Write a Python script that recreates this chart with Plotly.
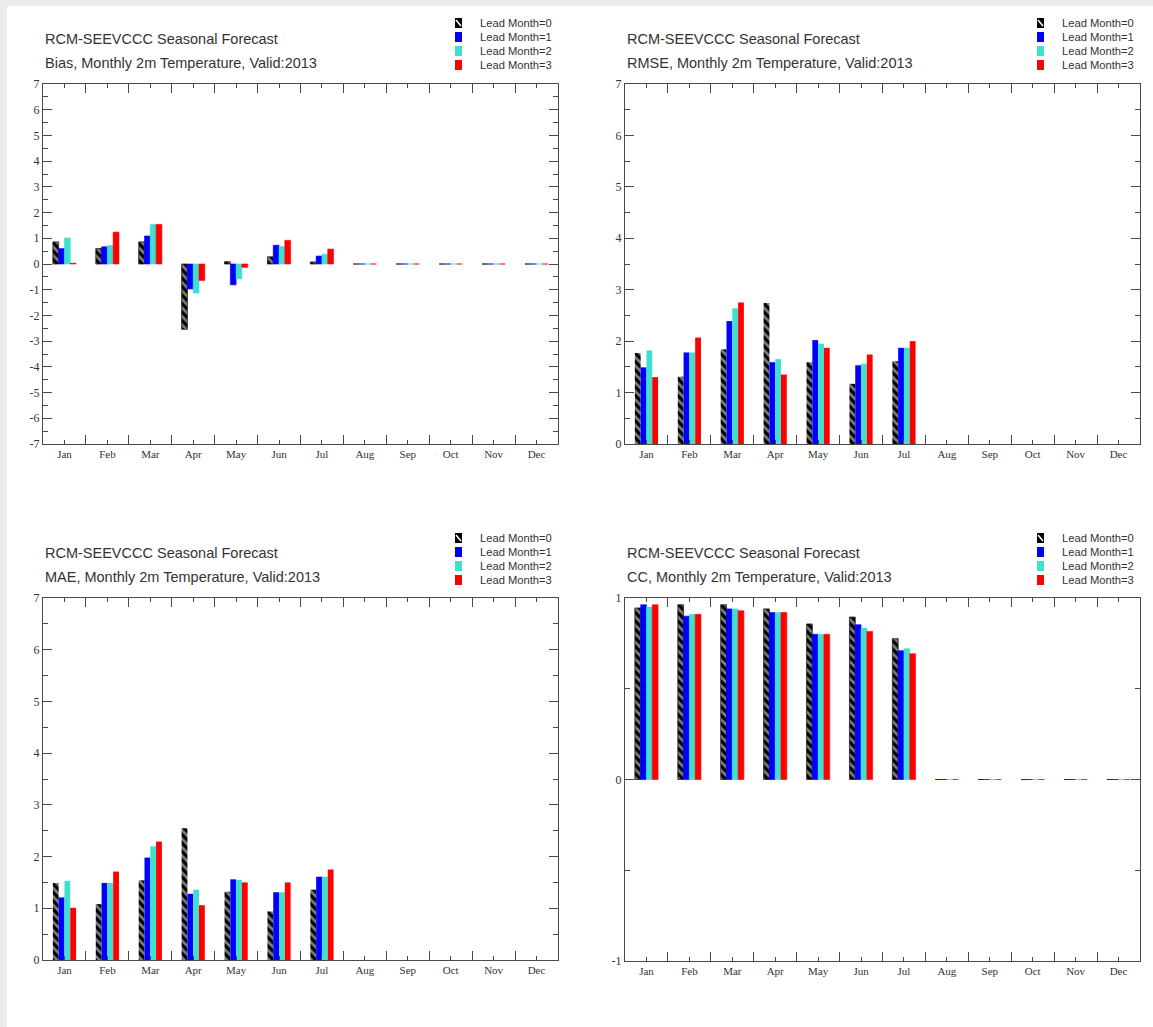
import plotly.graph_objects as go

W, H = 1153, 1027

months = ["Jan", "Feb", "Mar", "Apr", "May", "Jun", "Jul", "Aug", "Sep", "Oct", "Nov", "Dec"]
lead_labels = ["Lead Month=0", "Lead Month=1", "Lead Month=2", "Lead Month=3"]
lead_colors = ["#000000", "#0000ff", "#40e0d0", "#ff0000"]

# Bias
bias_l0 = [0.86, 0.60, 0.86, -2.54, 0.09, 0.28, 0.08, 0, 0, 0, 0, 0]
bias_l1 = [0.60, 0.67, 1.09, -0.97, -0.81, 0.73, 0.31, 0, 0, 0, 0, 0]
bias_l2 = [1.01, 0.72, 1.54, -1.13, -0.58, 0.68, 0.38, 0, 0, 0, 0, 0]
bias_l3 = [0.03, 1.24, 1.54, -0.64, -0.13, 0.92, 0.58, 0, 0, 0, 0, 0]
# RMSE
rmse_l0 = [1.77, 1.31, 1.84, 2.74, 1.59, 1.17, 1.61, 0, 0, 0, 0, 0]
rmse_l1 = [1.49, 1.78, 2.39, 1.59, 2.02, 1.53, 1.87, 0, 0, 0, 0, 0]
rmse_l2 = [1.82, 1.78, 2.64, 1.65, 1.95, 1.56, 1.87, 0, 0, 0, 0, 0]
rmse_l3 = [1.30, 2.07, 2.75, 1.35, 1.87, 1.74, 2.00, 0, 0, 0, 0, 0]
# MAE
mae_l0 = [1.49, 1.08, 1.54, 2.55, 1.32, 0.94, 1.36, 0, 0, 0, 0, 0]
mae_l1 = [1.21, 1.49, 1.98, 1.28, 1.56, 1.31, 1.61, 0, 0, 0, 0, 0]
mae_l2 = [1.53, 1.49, 2.20, 1.36, 1.55, 1.31, 1.61, 0, 0, 0, 0, 0]
mae_l3 = [1.01, 1.71, 2.29, 1.06, 1.50, 1.50, 1.75, 0, 0, 0, 0, 0]
# CC
cc_l0 = [0.945, 0.963, 0.963, 0.94, 0.857, 0.895, 0.776, 0, 0, 0, 0, 0]
cc_l1 = [0.963, 0.90, 0.94, 0.92, 0.80, 0.853, 0.71, 0, 0, 0, 0, 0]
cc_l2 = [0.95, 0.91, 0.94, 0.92, 0.80, 0.835, 0.72, 0, 0, 0, 0, 0]
cc_l3 = [0.963, 0.91, 0.93, 0.92, 0.80, 0.816, 0.693, 0, 0, 0, 0, 0]

title_line1 = "RCM-SEEVCCC Seasonal Forecast"
panel_titles = [
    "Bias, Monthly 2m Temperature, Valid:2013",
    "RMSE, Monthly 2m Temperature, Valid:2013",
    "MAE, Monthly 2m Temperature, Valid:2013",
    "CC, Monthly 2m Temperature, Valid:2013",
]

panels = [
    dict(data=[bias_l0, bias_l1, bias_l2, bias_l3], yr=[-7, 7],
         px=(43, 558), py=(84, 444), title=panel_titles[0], top=True, left=True),
    dict(data=[rmse_l0, rmse_l1, rmse_l2, rmse_l3], yr=[0, 7],
         px=(625, 1140), py=(84, 444), title=panel_titles[1], top=True, left=False),
    dict(data=[mae_l0, mae_l1, mae_l2, mae_l3], yr=[0, 7],
         px=(43, 558), py=(598, 960), title=panel_titles[2], top=False, left=True),
    dict(data=[cc_l0, cc_l1, cc_l2, cc_l3], yr=[-1, 1],
         px=(625, 1140), py=(598, 961), title=panel_titles[3], top=False, left=False),
]

xpos = list(range(1, len(months) + 1))
axcol = "#4a4a4a"
txtcol = "#333333"

fig = go.Figure()
layout = dict(
    width=W, height=H, autosize=False,
    margin=dict(l=0, r=0, t=0, b=0, pad=0, autoexpand=False),
    paper_bgcolor="#ebebeb", plot_bgcolor="white",
    barmode="group", bargap=0.46, bargroupgap=0.0,
    showlegend=False,
)
shapes = [dict(type="rect", xref="paper", yref="paper", x0=7 / W, x1=1.0, y0=0, y1=1 - 6 / H,
               fillcolor="white", line=dict(width=0), layer="below")]
annotations = []

for i, p in enumerate(panels):
    n = "" if i == 0 else str(i + 1)
    xa, ya = "x" + n, "y" + n
    zero_visible = p["yr"][0] < 0
    for k in range(4):
        if k == 0:
            marker = dict(color="black", line=dict(color="#222222", width=0.8 if zero_visible else 0),
                          pattern=dict(shape="\\", fgcolor="white", fillmode="overlay",
                                       size=6, solidity=0.45))
        else:
            marker = dict(color=lead_colors[k],
                          line=dict(color=lead_colors[k], width=0.6 if zero_visible else 0))
        fig.add_trace(go.Bar(x=xpos, y=p["data"][k], name=lead_labels[k], marker=marker,
                             xaxis=xa, yaxis=ya))
    x0, x1 = p["px"]
    y0, y1 = p["py"]
    yticks = list(range(p["yr"][0], p["yr"][1] + 1))
    layout["xaxis" + n] = dict(
        domain=[x0 / W, x1 / W], anchor=ya, range=[0.5, len(months) + 0.5],
        tickmode="array", tickvals=xpos, ticktext=months,
        ticks="inside", ticklen=4, tickcolor=axcol, tickwidth=1,
        minor=dict(ticks="inside", ticklen=9, tick0=0.5, dtick=1, tickcolor=axcol, tickwidth=1),
        showline=True, linecolor=axcol, linewidth=1, mirror="ticks",
        showgrid=False, zeroline=False, fixedrange=True, automargin=False,
        tickfont=dict(family="Liberation Serif", size=11, color=txtcol),
    )
    layout["yaxis" + n] = dict(
        domain=[1 - y1 / H, 1 - y0 / H], anchor=xa, range=p["yr"],
        tickmode="array", tickvals=yticks, ticktext=[str(v) for v in yticks],
        ticks="inside", ticklen=9, tickcolor=axcol, tickwidth=1,
        minor=dict(ticks="inside", ticklen=5, tick0=0, dtick=0.5, tickcolor=axcol, tickwidth=1),
        showline=True, linecolor=axcol, linewidth=1, mirror="ticks",
        showgrid=False, zeroline=False, fixedrange=True, automargin=False,
        tickfont=dict(family="Liberation Serif", size=12, color=txtcol),
    )
    # titles
    tx = x0
    ty1 = 39 if p["top"] else 553
    annotations.append(dict(xref="paper", yref="paper", x=tx / W, y=1 - ty1 / H, text=title_line1,
                            showarrow=False, xanchor="left", yanchor="middle",
                            font=dict(family="Liberation Sans", size=14.5, color=txtcol)))
    annotations.append(dict(xref="paper", yref="paper", x=tx / W, y=1 - (ty1 + 24) / H, text=p["title"],
                            showarrow=False, xanchor="left", yanchor="middle",
                            font=dict(family="Liberation Sans", size=14.5, color=txtcol)))
    # legend
    lx = 455 if p["left"] else 1037
    ly0 = 23 if p["top"] else 538
    for k in range(4):
        ly = ly0 + 14 * k
        shapes.append(dict(type="rect", xref="paper", yref="paper",
                           x0=lx / W, x1=(lx + 7) / W, y0=1 - (ly + 5) / H, y1=1 - (ly - 5) / H,
                           fillcolor=lead_colors[k], line=dict(width=0)))
        if k == 0:
            shapes.append(dict(type="line", xref="paper", yref="paper",
                               x0=(lx + 1) / W, x1=(lx + 6) / W, y0=1 - (ly - 3) / H, y1=1 - (ly + 3) / H,
                               line=dict(color="white", width=1.5)))
        annotations.append(dict(xref="paper", yref="paper", x=(lx + 23) / W, y=1 - ly / H,
                                text=lead_labels[k], showarrow=False, xanchor="left", yanchor="middle",
                                font=dict(family="Liberation Sans", size=11.2, color=txtcol)))

layout["shapes"] = shapes
layout["annotations"] = annotations
fig.update_layout(**layout)
fig.write_html("out.html")
